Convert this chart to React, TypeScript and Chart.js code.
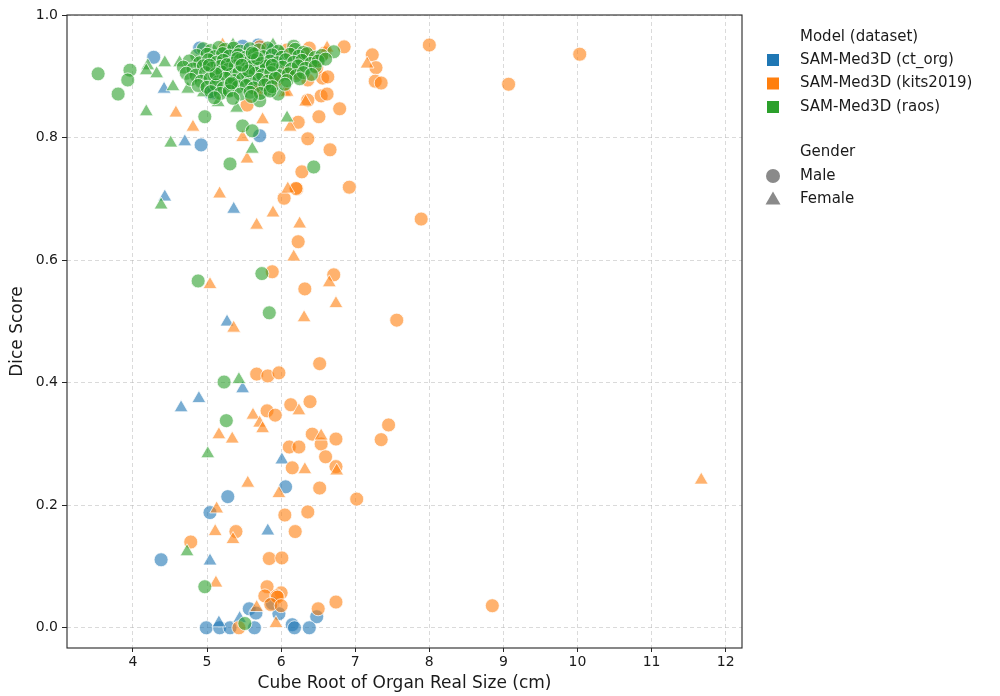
import React, { useEffect, useRef } from 'react';
import { Chart, registerables } from 'chart.js';

Chart.register(...registerables);

// ---- data (x = cube root of organ size in cm, y = dice score) ----
const ctOrgMale: number[][] = [
  [4.28, 0.931], [4.92, 0.788], [5.71, 0.803], [4.9, 0.946], [5.48, 0.949], [5.69, 0.951], [5.85, 0.943],
  [5.71, 0.891], [5.04, 0.873], [5.74, 0.889], [5.08, 0.873], [5.3, 0.94], [5.95, 0.93],
  [6.06, 0.23], [5.28, 0.214], [5.04, 0.188], [4.38, 0.111], [5.57, 0.031], [5.66, 0.024], [5.97, 0.023],
  [6.48, 0.018], [5.88, 0.04], [4.99, 0.0], [5.17, 0.0], [5.31, 0.0], [5.64, 0.0], [6.15, 0.005],
  [6.18, 0.0], [6.38, 0.0],
];
const ctOrgFemale: number[][] = [
  [4.42, 0.879], [4.7, 0.793], [4.43, 0.703], [5.36, 0.683], [5.27, 0.499], [5.48, 0.39], [4.89, 0.374],
  [4.65, 0.359], [6.01, 0.274], [5.82, 0.158], [5.04, 0.109], [5.16, 0.008], [5.44, 0.015],
];
const kitsMale: number[][] = [
  [8.0, 0.951], [10.03, 0.936], [9.07, 0.887], [6.85, 0.948], [7.23, 0.935], [7.28, 0.914], [7.27, 0.892],
  [7.35, 0.889], [6.79, 0.847], [6.66, 0.78], [6.36, 0.798], [5.97, 0.767], [6.28, 0.744], [6.21, 0.716],
  [6.2, 0.717], [6.04, 0.701], [6.92, 0.719], [7.89, 0.667], [6.23, 0.63], [5.88, 0.581], [6.71, 0.576],
  [6.32, 0.553], [7.56, 0.502], [6.52, 0.431], [5.67, 0.414], [5.82, 0.411], [5.97, 0.416], [6.13, 0.364],
  [6.39, 0.369], [5.81, 0.354], [5.92, 0.347], [6.42, 0.316], [6.54, 0.3], [6.74, 0.308], [6.11, 0.295],
  [6.24, 0.295], [6.6, 0.279], [6.74, 0.263], [6.15, 0.261], [7.45, 0.331], [7.35, 0.307], [6.52, 0.228],
  [7.02, 0.21], [6.05, 0.184], [6.36, 0.189], [5.39, 0.157], [6.19, 0.157], [4.78, 0.14], [5.84, 0.113],
  [6.01, 0.114], [5.81, 0.067], [5.78, 0.052], [6.0, 0.057], [5.94, 0.052], [5.95, 0.05], [5.86, 0.038],
  [6.0, 0.036], [6.5, 0.031], [6.74, 0.042], [5.43, 0.0], [8.85, 0.036],
  [6.38, 0.946], [6.36, 0.894], [6.56, 0.897], [6.63, 0.899], [6.54, 0.868], [6.62, 0.871], [6.51, 0.834],
  [6.23, 0.825], [5.54, 0.853], [6.12, 0.905], [6.08, 0.943], [5.71, 0.948], [5.94, 0.894], [5.67, 0.878],
  [6.59, 0.938], [6.48, 0.914], [6.09, 0.907], [6.21, 0.905], [6.36, 0.861], [5.81, 0.894], [5.69, 0.878],
  [6.3, 0.93], [6.45, 0.925],
];
const kitsFemale: number[][] = [
  [7.16, 0.92], [4.58, 0.84], [4.81, 0.817], [5.75, 0.829], [6.12, 0.817], [6.33, 0.858], [5.48, 0.8],
  [6.05, 0.873], [6.08, 0.874], [5.21, 0.951], [6.62, 0.946], [5.54, 0.765], [5.17, 0.708], [6.09, 0.716],
  [5.89, 0.677], [5.67, 0.657], [6.25, 0.659], [6.17, 0.605], [5.04, 0.56], [6.65, 0.563], [6.74, 0.529],
  [6.31, 0.506], [5.36, 0.489], [6.24, 0.354], [5.62, 0.347], [5.71, 0.334], [5.75, 0.325], [5.16, 0.315],
  [5.34, 0.308], [6.54, 0.313], [6.32, 0.258], [6.75, 0.256], [5.55, 0.236], [5.97, 0.219], [5.13, 0.194],
  [5.11, 0.157], [5.35, 0.144], [5.12, 0.073], [5.67, 0.033], [5.93, 0.007], [11.67, 0.241],
];
const raosMale: number[][] = [
  [3.53, 0.904], [3.96, 0.91], [3.93, 0.894], [3.8, 0.871], [4.97, 0.834], [5.48, 0.819], [5.61, 0.811],
  [5.31, 0.757], [6.44, 0.752], [5.71, 0.86], [5.96, 0.871], [5.82, 0.879], [6.71, 0.94], [6.17, 0.949],
  [4.88, 0.566], [5.74, 0.578], [5.84, 0.514], [5.23, 0.401], [5.26, 0.338], [4.97, 0.067], [5.51, 0.007],
  [4.95, 0.945], [5.05, 0.942], [5.16, 0.947], [5.24, 0.944], [5.36, 0.946], [5.45, 0.941], [5.58, 0.945],
  [5.7, 0.943], [5.82, 0.946], [5.96, 0.941], [6.19, 0.944], [6.3, 0.939],
  [4.86, 0.934], [5.0, 0.936], [5.1, 0.932], [5.21, 0.937], [5.3, 0.933], [5.42, 0.935], [5.52, 0.931],
  [5.64, 0.936], [5.76, 0.932], [5.88, 0.935], [6.01, 0.931], [6.12, 0.936], [6.24, 0.933], [6.35, 0.937],
  [6.46, 0.931], [6.55, 0.934],
  [4.76, 0.925], [4.9, 0.922], [5.02, 0.927], [5.13, 0.923], [5.22, 0.926], [5.34, 0.921], [5.45, 0.927],
  [5.54, 0.922], [5.63, 0.926], [5.74, 0.921], [5.85, 0.925], [5.95, 0.922], [6.06, 0.927], [6.17, 0.923],
  [6.28, 0.926], [6.4, 0.921], [6.5, 0.925], [6.6, 0.928],
  [4.68, 0.915], [4.81, 0.912], [4.95, 0.917], [5.07, 0.913], [5.18, 0.916], [5.28, 0.911], [5.38, 0.917],
  [5.5, 0.912], [5.6, 0.916], [5.7, 0.913], [5.8, 0.917], [5.9, 0.911], [6.02, 0.915], [6.14, 0.912],
  [6.23, 0.917], [6.33, 0.913], [6.46, 0.916],
  [4.72, 0.905], [4.85, 0.902], [4.98, 0.906], [5.1, 0.901], [5.2, 0.907], [5.32, 0.903], [5.43, 0.906],
  [5.55, 0.901], [5.65, 0.905], [5.75, 0.902], [5.86, 0.906], [5.98, 0.901], [6.1, 0.904], [6.2, 0.901],
  [6.3, 0.906], [6.41, 0.903],
  [4.78, 0.895], [4.92, 0.892], [5.04, 0.896], [5.15, 0.891], [5.25, 0.897], [5.37, 0.893], [5.48, 0.896],
  [5.58, 0.891], [5.7, 0.895], [5.82, 0.892], [5.92, 0.897], [6.08, 0.893], [6.25, 0.896],
  [4.88, 0.885], [5.0, 0.882], [5.12, 0.886], [5.22, 0.881], [5.32, 0.887], [5.42, 0.883], [5.53, 0.885],
  [5.63, 0.881], [5.78, 0.886], [5.88, 0.883], [6.05, 0.887],
  [5.05, 0.875], [5.18, 0.872], [5.3, 0.876], [5.45, 0.871], [5.58, 0.874], [5.72, 0.872], [5.85, 0.876],
  [5.1, 0.865], [5.35, 0.864], [5.6, 0.867],
  [5.27, 0.919], [5.41, 0.929], [5.56, 0.909], [5.12, 0.904], [5.68, 0.929], [5.33, 0.889], [5.88, 0.918],
  [5.03, 0.918], [5.47, 0.918], [5.61, 0.938],
];
const raosFemale: number[][] = [
  [4.2, 0.917], [4.18, 0.909], [4.32, 0.904], [4.43, 0.922], [4.54, 0.883], [4.74, 0.879], [4.18, 0.842],
  [4.51, 0.791], [5.61, 0.781], [6.08, 0.832], [5.15, 0.857], [5.4, 0.848], [4.38, 0.69], [5.43, 0.405],
  [5.01, 0.284], [4.73, 0.124], [4.95, 0.873], [5.27, 0.873], [4.63, 0.922], [4.86, 0.923], [5.35, 0.951],
  [5.89, 0.951], [5.5, 0.93], [5.8, 0.92], [6.0, 0.94], [5.2, 0.91],
];

const modelLabels = ['SAM-Med3D (ct_org)', 'SAM-Med3D (kits2019)', 'SAM-Med3D (raos)'];
const genderLabels = ['Male', 'Female'];
const xTicks = [4, 5, 6, 7, 8, 9, 10, 11, 12];
const yTicks = [0, 0.2, 0.4, 0.6, 0.8, 1.0];

const solidColors = ['#1f77b4', '#ff7f0e', '#2ca02c'];
const fillColors = ['rgba(31,119,180,0.6)', 'rgba(255,127,14,0.6)', 'rgba(44,160,44,0.6)'];
const FONT = '"DejaVu Sans", sans-serif';

const toPts = (arr: number[][]) => arr.map(([x, y]) => ({ x, y }));

const frameLegendPlugin = {
  id: 'frameLegend',
  afterDatasetsDraw(chart: any) {
    const { ctx, chartArea } = chart;
    ctx.save();
    ctx.strokeStyle = '#262626';
    ctx.lineWidth = 1.1;
    ctx.strokeRect(chartArea.left, chartArea.top, chartArea.right - chartArea.left, chartArea.bottom - chartArea.top);
    ctx.restore();
  },
  afterDraw(chart: any) {
    const ctx = chart.ctx;
    ctx.save();
    ctx.font = `15px ${FONT}`;
    ctx.fillStyle = '#1a1a1a';
    ctx.textBaseline = 'middle';
    ctx.textAlign = 'left';
    const tx = 800;
    const mx = 773;
    ctx.fillText('Model (dataset)', tx, 37);
    modelLabels.forEach((lab, i) => {
      const y = 60 + i * 23.5;
      ctx.fillStyle = solidColors[i];
      ctx.fillRect(mx - 6, y - 6, 12, 12);
      ctx.fillStyle = '#1a1a1a';
      ctx.fillText(lab, tx, y);
    });
    ctx.fillText('Gender', tx, 152);
    genderLabels.forEach((lab, i) => {
      const y = 176 + i * 23.5;
      ctx.fillStyle = '#8a8a8a';
      ctx.beginPath();
      if (i === 0) {
        ctx.arc(mx, y, 7, 0, Math.PI * 2);
      } else {
        ctx.moveTo(mx, y - 8);
        ctx.lineTo(mx + 7.5, y + 5);
        ctx.lineTo(mx - 7.5, y + 5);
        ctx.closePath();
      }
      ctx.fill();
      ctx.fillStyle = '#1a1a1a';
      ctx.fillText(lab, tx, y);
    });
    ctx.restore();
  },
};

export default function App() {
  const ref = useRef<HTMLCanvasElement | null>(null);

  useEffect(() => {
    if (!ref.current) return;
    // higher `order` is drawn first (further back): ct_org at back, raos circles on top
    const groups = [
      { data: ctOrgMale, c: 0, style: 'circle', order: 5 },
      { data: ctOrgFemale, c: 0, style: 'triangle', order: 4 },
      { data: kitsMale, c: 1, style: 'circle', order: 3 },
      { data: kitsFemale, c: 1, style: 'triangle', order: 2 },
      { data: raosMale, c: 2, style: 'circle', order: 0 },
      { data: raosFemale, c: 2, style: 'triangle', order: 1 },
    ];
    const chart = new Chart(ref.current, {
      type: 'scatter',
      data: {
        datasets: groups.map((g) => ({
          data: toPts(g.data),
          order: g.order,
          pointStyle: g.style as any,
          pointRadius: g.style === 'circle' ? 7 : 8,
          pointBackgroundColor: fillColors[g.c],
          pointBorderColor: 'rgba(255,255,255,0.75)',
          pointBorderWidth: 1,
        })),
      },
      options: {
        responsive: false,
        animation: false,
        events: [],
        layout: { padding: { left: 0, right: 258, top: 15, bottom: 0 } },
        plugins: { legend: { display: false }, tooltip: { enabled: false } },
        scales: {
          x: {
            type: 'linear',
            min: 3.11,
            max: 12.22,
            afterFit: (s: any) => { s.height = 48; },
            afterBuildTicks: (s: any) => { s.ticks = xTicks.map((v) => ({ value: v })); },
            ticks: {
              includeBounds: false,
              stepSize: 1,
              font: { family: FONT, size: 14 },
              color: '#1a1a1a',
              padding: 2,
              callback: (v: any) => String(v),
            },
            grid: {
              color: 'rgba(176,176,176,0.6)',
              lineWidth: 0.8,
              tickLength: 4,
              tickColor: '#262626',
              tickWidth: 1,
            },
            border: { display: false, dash: [4, 3] },
            title: {
              display: true,
              text: 'Cube Root of Organ Real Size (cm)',
              font: { family: FONT, size: 17 },
              color: '#1a1a1a',
              padding: { top: 0, bottom: 2 },
            },
          },
          y: {
            type: 'linear',
            min: -0.033,
            max: 1.0,
            afterFit: (s: any) => { s.width = 67; },
            afterBuildTicks: (s: any) => { s.ticks = yTicks.map((v) => ({ value: v })); },
            ticks: {
              includeBounds: false,
              font: { family: FONT, size: 14 },
              color: '#1a1a1a',
              padding: 4,
              callback: (v: any) => Number(v).toFixed(1),
            },
            grid: {
              color: 'rgba(176,176,176,0.6)',
              lineWidth: 0.8,
              tickLength: 5,
              tickColor: '#262626',
              tickWidth: 1,
            },
            border: { display: false, dash: [4, 3] },
            title: {
              display: true,
              text: 'Dice Score',
              font: { family: FONT, size: 17 },
              color: '#1a1a1a',
              padding: { top: 7, bottom: 0 },
            },
          },
        },
      },
      plugins: [frameLegendPlugin],
    });
    return () => chart.destroy();
  }, []);

  return (
    <div style={{ position: 'fixed', left: 0, top: 0, width: 1000, height: 696, background: '#fff' }}>
      <canvas ref={ref} width={1000} height={696} style={{ width: 1000, height: 696, display: 'block' }} />
    </div>
  );
}
